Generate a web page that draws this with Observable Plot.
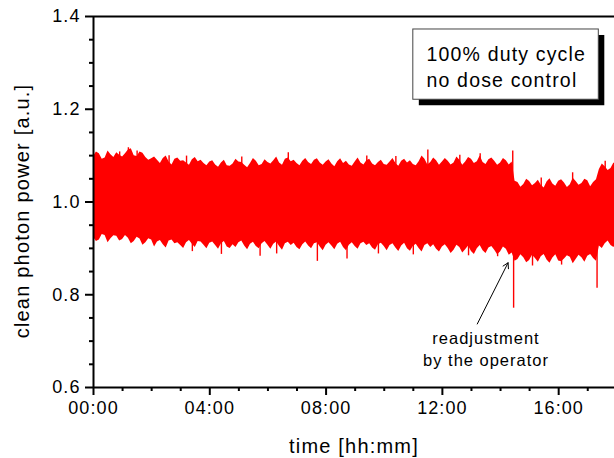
<!DOCTYPE html>
<html><head><meta charset="utf-8">
<script src="https://cdn.jsdelivr.net/npm/d3@7"></script>
<script src="https://cdn.jsdelivr.net/npm/@observablehq/plot@0.6"></script>
<style>
body{margin:0;background:#fff;}
#chart svg{font-family:"Liberation Sans",Arial,sans-serif;}
#chart svg text{letter-spacing:0.06em;}
</style></head><body><div id="chart"></div>
<script>
// time in hours (even samples)
const time = [0.0,0.2,0.4,0.6,0.8,1.0,
  1.2,1.4,1.6,1.8,2.0,
  2.2,2.4,2.6,2.8,3.0,3.2,3.4,3.6,3.8,4.0,
  4.2,4.4,4.6,4.8,5.0,5.2,5.4,5.6,5.8,6.0,
  6.2,6.4,6.6,6.8,7.0,7.2,7.4,7.6,7.8,8.0,
  8.2,8.4,8.6,8.8,9.0,9.2,9.4,9.6,9.8,10.0,
  10.2,10.4,10.6,10.8,11.0,11.2,11.4,11.6,11.8,12.0,
  12.2,12.4,12.6,12.8,13.0,13.2,13.4,13.6,13.8,14.0,14.2,14.4,
  14.6,14.8,15.0,15.2,15.4,15.6,15.8,16.0,16.2,16.4,16.6,16.8,17.0,17.2,
  17.4,17.6,17.8,18.0];
const upper = [1.098,1.104,1.095,1.102,1.106,1.097,
  1.112,1.100,1.108,1.096,1.093,
  1.090,1.094,1.086,1.092,1.088,1.084,1.091,1.087,1.083,1.086,
  1.080,1.084,1.078,1.082,1.086,1.079,1.083,1.088,1.081,1.085,
  1.089,1.084,1.092,1.087,1.083,1.088,1.085,1.090,1.084,1.086,
  1.082,1.087,1.083,1.080,1.086,1.084,1.089,1.082,1.085,1.081,
  1.086,1.083,1.088,1.084,1.081,1.087,1.092,1.085,1.089,1.086,
  1.088,1.084,1.090,1.086,1.092,1.087,1.085,1.091,1.088,1.084,1.089,1.086,
  1.042,1.038,1.044,1.040,1.036,1.043,1.039,1.045,1.041,1.037,1.044,1.040,1.046,1.042,
  1.070,1.076,1.072,1.078];
const lower = [0.924,0.918,0.928,0.921,0.926,0.919,
  0.922,0.915,0.920,0.912,0.918,
  0.914,0.908,0.916,0.910,0.906,0.912,0.909,0.915,0.907,0.911,
  0.906,0.910,0.903,0.908,0.912,0.905,0.909,0.904,0.910,0.907,
  0.909,0.904,0.910,0.906,0.902,0.908,0.905,0.910,0.903,0.907,
  0.905,0.909,0.902,0.907,0.904,0.910,0.906,0.901,0.908,0.904,
  0.906,0.901,0.905,0.899,0.904,0.900,0.906,0.902,0.898,0.903,
  0.900,0.896,0.902,0.897,0.893,0.899,0.895,0.901,0.896,0.892,0.898,0.890,
  0.876,0.880,0.874,0.878,0.882,0.875,0.879,0.873,0.877,0.881,0.876,0.880,0.883,0.878,
  0.905,0.910,0.906,0.912];
// time in hours (odd samples)
const timeMid = [0.1,0.3,0.5,0.7,0.9,
  1.1,1.3,1.5,1.7,1.9,
  2.1,2.3,2.5,2.7,2.9,3.1,3.3,3.5,3.7,3.9,
  4.1,4.3,4.5,4.7,4.9,5.1,5.3,5.5,5.7,5.9,
  6.1,6.3,6.5,6.7,6.9,7.1,7.3,7.5,7.7,7.9,
  8.1,8.3,8.5,8.7,8.9,9.1,9.3,9.5,9.7,9.9,
  10.1,10.3,10.5,10.7,10.9,11.1,11.3,11.5,11.7,11.9,
  12.1,12.3,12.5,12.7,12.9,13.1,13.3,13.5,13.7,13.9,
  14.1,14.3,14.5,
  14.7,14.9,15.1,15.3,15.5,15.7,15.9,16.1,16.3,16.5,16.7,16.9,17.1,
  17.3,17.5,17.7,17.9];
const upperMid = [1.108,1.092,1.110,1.096,1.101,
  1.104,1.115,1.098,1.105,1.090,
  1.097,1.083,1.099,1.080,1.095,1.089,1.079,1.096,1.090,1.078,
  1.089,1.075,1.090,1.077,1.092,1.085,1.074,1.094,1.078,1.091,
  1.082,1.097,1.079,1.095,1.090,1.078,1.094,1.081,1.093,1.079,
  1.091,1.076,1.093,1.088,1.077,1.095,1.080,1.092,1.078,1.090,
  1.079,1.094,1.077,1.092,1.089,1.078,1.099,1.080,1.095,1.079,
  1.094,1.080,1.097,1.079,1.096,1.083,1.099,1.081,1.095,1.079,
  1.094,1.080,1.045,
  1.032,1.049,1.035,1.047,1.030,1.050,1.034,1.048,1.031,1.051,1.036,1.049,1.033,
  1.048,1.082,1.068,1.084];
const lowerMid = [0.915,0.930,0.912,0.927,0.916,
  0.928,0.910,0.924,0.907,0.921,
  0.903,0.917,0.901,0.918,0.912,0.900,0.917,0.902,0.914,0.899,
  0.914,0.898,0.915,0.900,0.902,0.916,0.897,0.913,0.899,0.915,
  0.898,0.914,0.896,0.913,0.911,0.897,0.914,0.899,0.912,0.895,
  0.912,0.897,0.913,0.895,0.912,0.898,0.913,0.910,0.896,0.911,
  0.895,0.910,0.893,0.911,0.894,0.909,0.892,0.910,0.908,0.892,
  0.908,0.889,0.907,0.890,0.905,0.887,0.906,0.889,0.904,0.886,
  0.903,0.885,0.872,
  0.886,0.869,0.885,0.870,0.887,0.868,0.886,0.871,0.884,0.867,0.885,0.870,0.887,
  0.872,0.900,0.916,0.902];
// isolated spikes
const spikeTime  = [0.9,1.2,1.5,2.6,3.2,5.1,6.7,9.4,10.4,11.5,12.6,13.3,14.42,15.4,16.48,17.6,
  3.4,4.4,5.73,6.3,7.7,8.72,9.8,11.0,12.9,13.9,14.45,15.1,16.1,17.32];
const spikeValue = [1.108,1.117,1.110,1.100,1.099,1.097,1.106,1.099,1.098,1.112,1.101,1.104,1.110,1.052,1.063,1.088,
  0.893,0.887,0.883,0.888,0.872,0.877,0.888,0.886,0.884,0.882,0.771,0.862,0.864,0.814];

const xTicks = [0,4,8,12,16];
const xTickLabels = ["00:00","04:00","08:00","12:00","16:00"];
const xMinor = [1,2,3,5,6,7,9,10,11,13,14,15,17];
const yTicks = [0.6,0.8,1.0,1.2,1.4];
const yTickLabels = ["0.6","0.8","1.0","1.2","1.4"];
const yMinor = [0.65,0.7,0.75,0.85,0.9,0.95,1.05,1.1,1.15,1.25,1.3,1.35];
const xTitle = "time [hh:mm]";
const yTitle = "clean photon power [a.u.]";
const legendText = "100% duty cycle\nno dose control";
const noteText = "readjustment\nby the operator";

const band = time.map((t, i) => ({t, hi: upper[i], lo: lower[i]}))
  .concat(timeMid.map((t, i) => ({t, hi: upperMid[i], lo: lowerMid[i]})))
  .sort((a, b) => a.t - b.t);
const spikes = spikeTime.map((t, i) => ({t, v: spikeValue[i]}));

const plot = Plot.plot({
  width: 614, height: 458,
  marginLeft: 93, marginRight: 0, marginTop: 16, marginBottom: 71,
  x: {domain: [0, 17.92]},
  y: {domain: [0.6, 1.4]},
  style: {fontFamily: "'Liberation Sans', Arial, sans-serif", fontSize: "18px", color: "black", background: "white", overflow: "visible"},
  marks: [
    Plot.areaY(band, {x: "t", y1: "lo", y2: "hi", fill: "#ff0000", clip: true}),
    Plot.ruleX(spikes, {x: "t", y1: 1.0, y2: "v", stroke: "#ff0000", strokeWidth: 1.4, clip: true}),
    Plot.axisX(xMinor, {tickSize: 4, tickFormat: () => "", strokeWidth: 2, label: null}),
    Plot.axisX(xTicks, {tickSize: 8, tickPadding: 6, strokeWidth: 2, fontSize: 18, label: null,
      tickFormat: d => xTickLabels[xTicks.indexOf(d)]}),
    Plot.axisY(yMinor, {tickSize: 4, tickFormat: () => "", strokeWidth: 2, label: null}),
    Plot.axisY(yTicks, {tickSize: 8, tickPadding: 5, strokeWidth: 2, fontSize: 18, label: null,
      tickFormat: d => yTickLabels[yTicks.indexOf(d)]}),
    Plot.ruleX([0], {stroke: "black", strokeWidth: 2}),
    Plot.ruleY([0.6], {stroke: "black", strokeWidth: 2}),
    Plot.ruleY([1.4], {stroke: "black", strokeWidth: 2}),
    Plot.text([xTitle], {text: d => d, frameAnchor: "bottom", dy: 59, fontSize: 20, lineAnchor: "middle"}),
    Plot.text([yTitle], {text: d => d, frameAnchor: "left", dx: -71, dy: 9, rotate: -90, fontSize: 20, textAnchor: "middle", lineAnchor: "middle"}),
    Plot.rect([0], {x1: 11.0, x2: 17.38, y1: 1.2205, y2: 1.372, fill: "black", dx: 6, dy: 6}),
    Plot.rect([0], {x1: 11.0, x2: 17.38, y1: 1.2205, y2: 1.372, fill: "white", stroke: "#444", strokeWidth: 1}),
    Plot.text([legendText], {text: d => d, frameAnchor: "top-left", dx: 333, dy: 49, textAnchor: "start", lineAnchor: "middle", lineHeight: 1.37, fontSize: 19.5}),
    Plot.arrow([0], {x1: 13.2, y1: 0.737, x2: 14.26, y2: 0.869, stroke: "black", strokeWidth: 1, headLength: 9}),
    Plot.text([noteText], {text: d => d, x: 13.5, y: 0.686, lineAnchor: "middle", lineHeight: 1.33, fontSize: 16.5})
  ]
});
document.getElementById("chart").appendChild(plot);
</script></body></html>
